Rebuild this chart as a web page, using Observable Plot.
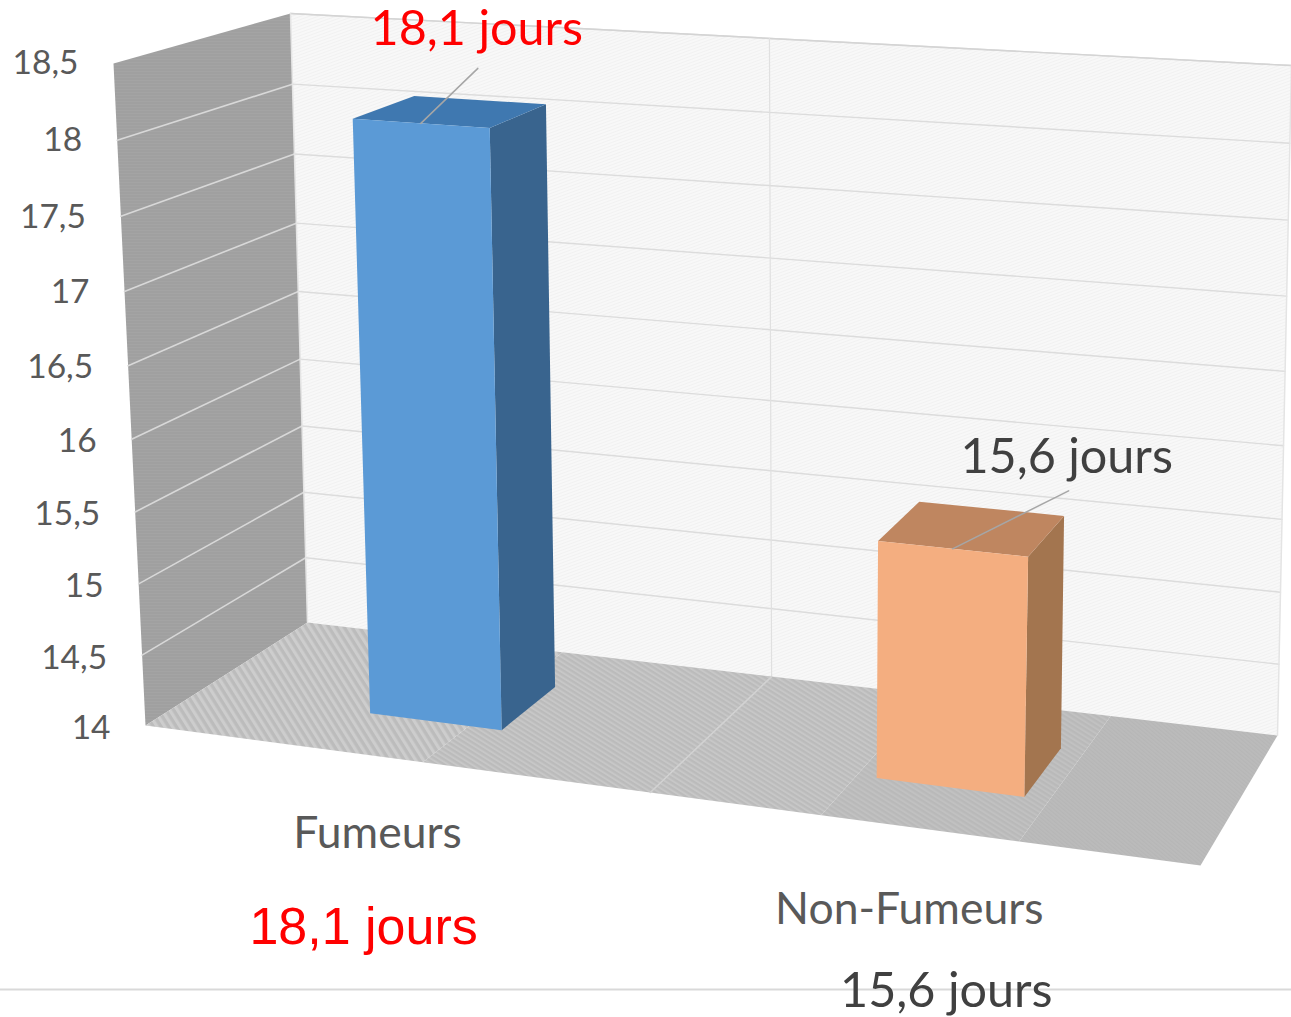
<!DOCTYPE html>
<html lang="fr">
<head>
<meta charset="utf-8">
<script src="https://cdn.jsdelivr.net/npm/d3@7"></script>
<script src="https://cdn.jsdelivr.net/npm/@observablehq/plot@0.6"></script>
<style>
html,body{margin:0;padding:0;background:#fff;overflow:hidden}
svg{display:block;filter:blur(0.45px);overflow:visible}
</style>
</head>
<body>
<div id="chart"></div>
<script>
// ---- data ----
const categories = ["Fumeurs", "Non-Fumeurs"];
const values = [18.1, 15.6];
const valueLabels = ["18,1 jours", "15,6 jours"];
const tickValues = [14, 14.5, 15, 15.5, 16, 16.5, 17, 17.5, 18, 18.5];
const tickLabels = ["14", "14,5", "15", "15,5", "16", "16,5", "17", "17,5", "18", "18,5"];
const frontColors = ["#5b9ad6", "#f4ae80"];
const topColors = ["#3f78b0", "#bf8660"];
const sideColors = ["#39648e", "#a3754f"];
const labelColors = ["#ff0000", "#404040"];

// ---- oblique perspective box that replaces the chart's plain x/y frame ----
const width = 1291, height = 1017;
const vMin = 14, vMax = 18.5;
const box = { // screen corners of the chart's 3-D box
  flb: [145, 725], flt: [113, 63], frb: [1200, 865], frt: [1223, 135],
  blb: [307, 622], blt: [290, 13], brb: [1277, 735], brt: [1291, 65]
};
const warp = (t, k) => t / (k + (1 - k) * t);
const mix = (a, b, t) => [a[0] + (b[0] - a[0]) * t, a[1] + (b[1] - a[1]) * t];
function project(u, v, w) {
  const U = warp(u, 1.09), V = warp((v - vMin) / (vMax - vMin), 1.05);
  const fb = mix(box.flb, box.frb, U), ft = mix(box.flt, box.frt, U);
  const bb = mix(box.blb, box.brb, U), bt = mix(box.blt, box.brt, U);
  const [x, y] = mix(mix(fb, ft, V), mix(bb, bt, V), w);
  return {x, y};
}
const poly = (corners, fill, extra = {}) =>
  Plot.line(corners.map(c => project(...c)), {x: "x", y: "y", fill, stroke: "none", ...extra});
const floorBand = (a, b, fill) =>
  poly([[a, vMin, 0], [b, vMin, 0], [b, vMin, 1], [a, vMin, 1]], fill);

const defs = () => {
  const g = d3.create("svg:g");
  g.html(`<defs>
    <pattern id="wallTex" width="3" height="3" patternUnits="userSpaceOnUse" patternTransform="rotate(-20)">
      <rect width="3" height="3" fill="#f8f8f8"/><rect width="3" height="1" fill="#f1f1f1"/>
    </pattern>
    <pattern id="sideTex" width="3" height="3" patternUnits="userSpaceOnUse">
      <rect width="3" height="3" fill="#a4a4a4"/><rect width="3" height="1" fill="#9c9c9c"/>
    </pattern>
    <pattern id="floorStripe" width="6.5" height="7" patternUnits="userSpaceOnUse" patternTransform="rotate(-32)">
      <rect width="6.5" height="7" fill="#bcbcbc"/><rect width="3.2" height="7" fill="#cdcdcd"/>
    </pattern>
    <pattern id="floorFine" width="4.2" height="4" patternUnits="userSpaceOnUse" patternTransform="rotate(-58)">
      <rect width="4.2" height="4" fill="#bbbbbb"/><rect width="2" height="4" fill="#c7c7c7"/>
    </pattern>
    <pattern id="floorMid" width="4.2" height="4" patternUnits="userSpaceOnUse" patternTransform="rotate(-58)">
      <rect width="4.2" height="4" fill="#b9b9b9"/><rect width="2" height="4" fill="#c1c1c1"/>
    </pattern>
    <pattern id="floorTex" width="3" height="3" patternUnits="userSpaceOnUse" patternTransform="rotate(-50)">
      <rect width="3" height="3" fill="#bbbbbb"/><rect width="1.2" height="3" fill="#b6b6b6"/>
    </pattern>
  </defs>`);
  return g.node();
};

// ---- faces ----
const backWall = poly([[0, vMin, 1], [0, vMax, 1], [1, vMax, 1], [1, vMin, 1]], "url(#wallTex)");
const leftWall = poly([[0, vMin, 0], [0, vMax, 0], [0, vMax, 1], [0, vMin, 1]], "url(#sideTex)");
const floorFaces = [
  floorBand(0.84, 1, "url(#floorTex)"),
  floorBand(0.66, 0.84, "url(#floorMid)"),
  floorBand(0.28, 0.66, "url(#floorFine)"),
  floorBand(0, 0.28, "url(#floorStripe)")
];

const grid = tickValues.slice(1);
const gridBack = grid.flatMap(v => [0, 1].map(u => ({...project(u, v, 1), v})));
const gridLeft = grid.slice(0, -1).flatMap(v => [0, 1].map(w => ({...project(0, v, w), v})));
const barCentre = [0.246, 0.748], barHalf = [0.067, 0.069], wFront = 0.33, wBack = 0.72;

const barMarks = categories.flatMap((c, i) => {
  const a = barCentre[i] - barHalf[i], b = barCentre[i] + barHalf[i], v = values[i];
  return [
    poly([[b, vMin, wFront], [b, v, wFront], [b, v, wBack], [b, vMin, wBack]], sideColors[i]),
    poly([[a, v, wFront], [b, v, wFront], [b, v, wBack], [a, v, wBack]], topColors[i]),
    poly([[a, vMin, wFront], [b, vMin, wFront], [b, v, wFront], [a, v, wFront]], frontColors[i])
  ];
});

// ---- labels ----
const barTops = categories.map((c, i) => project(barCentre[i], values[i], wFront));
const leaderOffset = [[57, -55], [116, -58]];
const leaders = barTops.flatMap((p, i) => [
  {x: p.x, y: p.y, i},
  {x: p.x + leaderOffset[i][0], y: p.y + leaderOffset[i][1], i}
]);
const topLabelOffset = [[56, -94], [114, -91]];
const catOffset = [[-15, 75], [-10, 82]];
const bottomOffset = [[-29, 169], [27, 163]];
const labelRows = categories.map((c, i) => {
  const f = project((i + 0.5) / categories.length, vMin, 0);
  return {
    c, i, color: labelColors[i], text: valueLabels[i],
    tx: barTops[i].x + topLabelOffset[i][0], ty: barTops[i].y + topLabelOffset[i][1],
    cx: f.x + catOffset[i][0], cy: f.y + catOffset[i][1],
    bx: f.x + bottomOffset[i][0], by: f.y + bottomOffset[i][1]
  };
});
const tickRows = tickValues.map((v, i) => {
  const p = project(0, v, 0);
  return {x: p.x, y: p.y + (vMax - v) * 0.7, label: tickLabels[i]};
});

const chart = Plot.plot({
  width, height,
  margin: 0,
  x: {type: "identity", axis: null},
  y: {type: "identity", axis: null},
  style: {background: "#fff"},
  marks: [
    defs,
    backWall,
    leftWall,
    ...floorFaces,
    Plot.line(gridBack, {x: "x", y: "y", z: "v", stroke: "#dcdcdc", strokeWidth: 1.4}),
    Plot.line(gridLeft, {x: "x", y: "y", z: "v", stroke: "#d8d8d8", strokeWidth: 1.6}),
    Plot.line([[0, vMax, 1], [1, vMax, 1]].map(c => project(...c)), {x: "x", y: "y", stroke: "#d4d4d4", strokeWidth: 1.4}),
    Plot.line([[0, vMin, 1], [0, vMax, 1]].map(c => project(...c)), {x: "x", y: "y", stroke: "#e4e4e4", strokeWidth: 1.5}),
    Plot.line([[1, vMin, 1], [1, vMax, 1]].map(c => project(...c)), {x: "x", y: "y", stroke: "#e4e4e4", strokeWidth: 1.5}),
    Plot.line([[0.5, vMin, 1], [0.5, vMax, 1]].map(c => project(...c)), {x: "x", y: "y", stroke: "#e0e0e0", strokeWidth: 1.2}),
    Plot.line([[0.5, vMin, 0], [0.5, vMin, 1]].map(c => project(...c)), {x: "x", y: "y", stroke: "#d2d2d2", strokeWidth: 1.6}),
    ...barMarks,
    Plot.line(leaders, {x: "x", y: "y", z: "i", stroke: "#a6a6a6", strokeWidth: 1.5}),
    Plot.ruleY([989], {stroke: "#d9d9d9", strokeWidth: 2}),
    Plot.text(tickRows, {x: "x", y: "y", text: "label", dx: -35, dy: 0, textAnchor: "end", fill: "#595959", fontFamily: "Lato", fontSize: 33.5}),
    Plot.text(labelRows, {x: "cx", y: "cy", text: "c", fill: "#595959", fontFamily: "Lato", fontSize: 44.5}),
    Plot.text(labelRows, {x: "tx", y: "ty", text: "text", fill: "color", fontFamily: "Lato", fontSize: 48.5}),
    Plot.text(labelRows.filter(d => d.i === 0), {x: "bx", y: "by", text: "text", fill: "color", fontFamily: "Liberation Sans", fontSize: 52}),
    Plot.text(labelRows.filter(d => d.i === 1), {x: "bx", y: "by", text: "text", fill: "color", fontFamily: "Lato", fontSize: 48.5})
  ]
});
document.getElementById("chart").append(chart);
</script>
</body>
</html>
